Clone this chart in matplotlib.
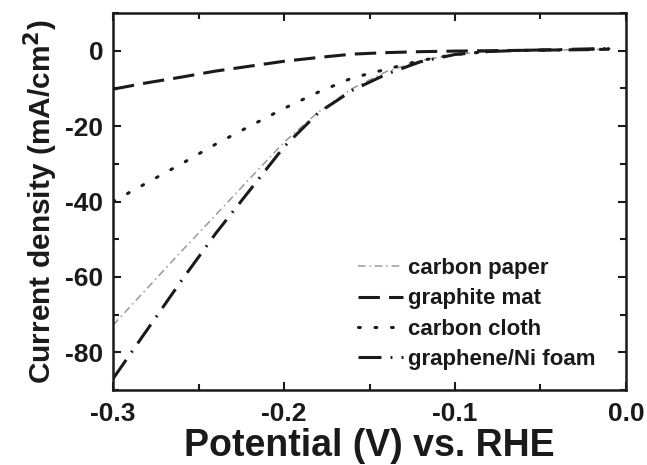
import numpy as np
import matplotlib
matplotlib.use("Agg")
import matplotlib.pyplot as plt
from matplotlib.ticker import MultipleLocator

plt.rcParams["font.family"] = ["Liberation Sans", "DejaVu Sans"]
plt.rcParams["font.weight"] = "bold"
plt.rcParams["axes.unicode_minus"] = False

# potential (V vs. RHE) and current density (mA/cm2)
potential = [-0.30, -0.28, -0.26, -0.24, -0.22, -0.20, -0.18, -0.16,
             -0.14, -0.12, -0.10, -0.08, -0.06, -0.04, -0.02, -0.01]
carbon_paper = [-72.8, -63.0, -53.2, -43.6, -33.9, -24.3, -16.3, -10.0,
                -5.5, -2.6, -1.0, -0.2, 0.1, 0.2, 0.3, 0.4]
graphite_mat = [-10.2, -8.5, -7.0, -5.4, -4.1, -2.8, -1.8, -0.9,
                -0.5, -0.25, -0.1, 0.0, 0.1, 0.2, 0.3, 0.4]
carbon_cloth = [-40.0, -35.0, -30.0, -24.8, -20.0, -15.3, -11.0, -7.2,
                -4.9, -2.6, -1.0, -0.2, 0.1, 0.2, 0.4, 0.5]
graphene_ni = [-87.0, -74.0, -61.0, -48.5, -37.0, -25.5, -16.5, -10.5,
               -6.2, -2.9, -1.0, -0.2, 0.1, 0.3, 0.5, 0.6]

fig = plt.figure(figsize=(6.47, 4.65), dpi=100)
ax = fig.add_axes([0.1747, 0.1613, 0.7928, 0.8107])

ax.plot(potential, carbon_paper, color="#999999", lw=1.1,
        linestyle=(0, (5, 2.5, 1, 2.5)), label="carbon paper")
ax.plot(potential, graphite_mat, color="#1a1a1a", lw=2.2,
        linestyle=(0, (7, 3)), label="graphite mat")
ax.plot(potential, carbon_cloth, color="#1a1a1a", lw=2.2, dash_capstyle="round",
        linestyle=(0, (0.6, 4.8)), label="carbon cloth")
ax.plot(potential, graphene_ni, color="#1a1a1a", lw=2.2,
        linestyle=(0, (7.5, 3, 0.6, 3)), label="graphene/Ni foam")

ax.set_xlim(-0.3, 0.0)
ax.set_ylim(-90, 10)
ax.xaxis.set_major_locator(MultipleLocator(0.1))
ax.xaxis.set_minor_locator(MultipleLocator(0.05))
ax.yaxis.set_major_locator(MultipleLocator(20))
ax.yaxis.set_minor_locator(MultipleLocator(10))
ax.xaxis.set_major_formatter(plt.FuncFormatter(lambda v, p: f"{v:.1f}"))

ax.tick_params(which="both", direction="in", top=True, right=True,
               width=1.5, labelsize=19, colors="#1a1a1a")
ax.tick_params(axis="x", pad=9)
ax.tick_params(axis="y", pad=7)
ax.tick_params(which="major", length=6)
ax.tick_params(which="minor", length=4)
for s in ax.spines.values():
    s.set_linewidth(1.8)
    s.set_color("#1a1a1a")

ax.set_xlabel("Potential (V) vs. RHE", fontsize=27, fontweight="bold",
              color="#1a1a1a", labelpad=1)
ax.set_ylabel("Current density (mA/cm$^\\mathbf{2}$)", fontsize=21.5,
              fontweight="bold", color="#1a1a1a", labelpad=4)

leg = ax.legend(loc="lower right", frameon=False, fontsize=16,
                handlelength=2.0, handletextpad=0.25, labelspacing=0.42,
                borderaxespad=0.5, bbox_to_anchor=(0.98, 0.0))
for t in leg.get_texts():
    t.set_color("#1a1a1a")

fig.savefig("out.png", dpi=100)
